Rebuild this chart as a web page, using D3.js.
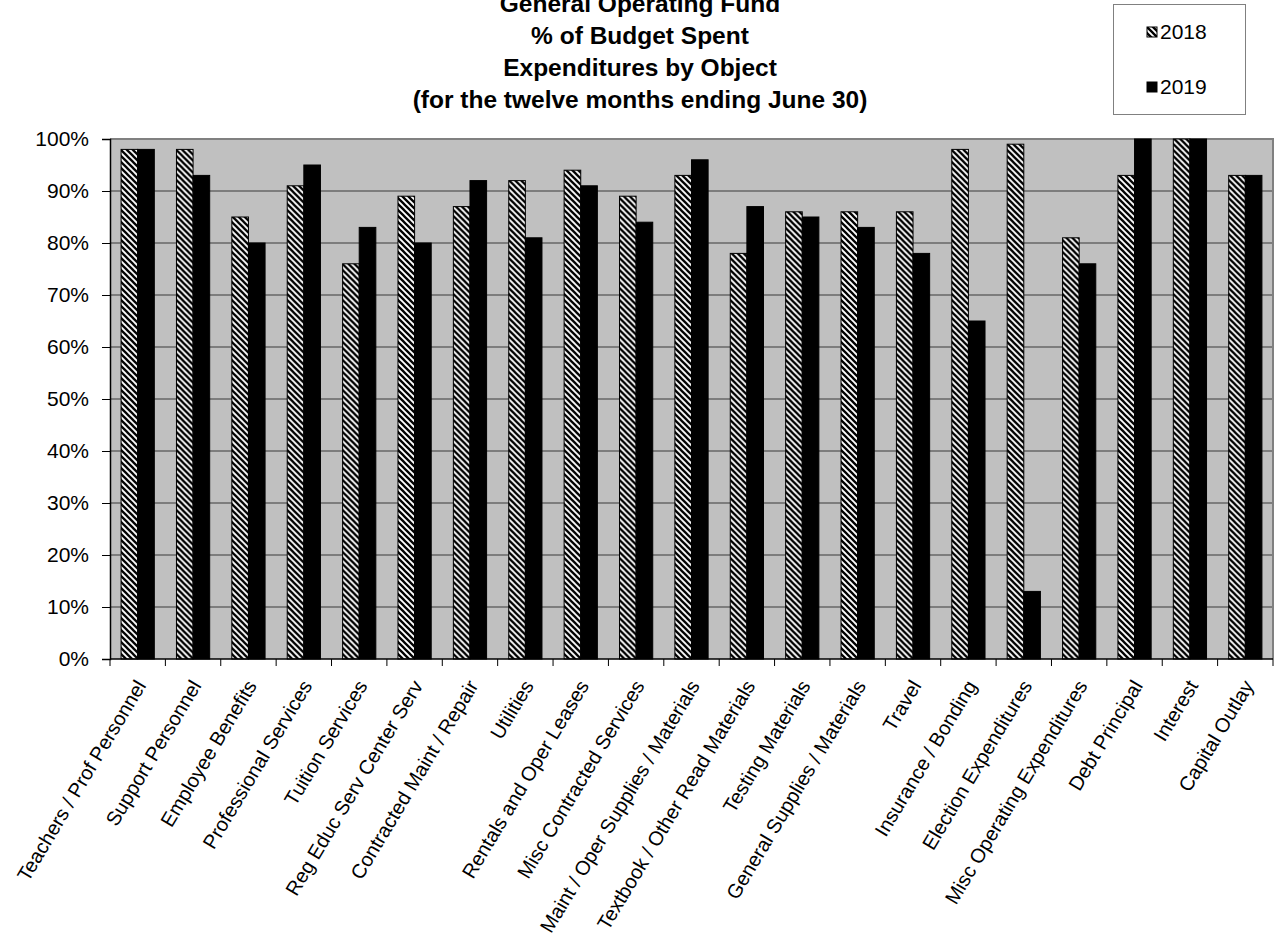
<!DOCTYPE html>
<html>
<head>
<meta charset="utf-8">
<script src="https://cdn.jsdelivr.net/npm/d3@7"></script>
<style>
  html, body { margin: 0; padding: 0; background: #ffffff; }
  svg { display: block; font-family: Arial, "Liberation Sans", sans-serif; }
</style>
</head>
<body>
<svg id="chart" width="1276" height="940"></svg>
<script>
const categories = [
  "Teachers / Prof Personnel", "Support Personnel", "Employee Benefits",
  "Professional Services", "Tuition Services", "Reg Educ Serv Center Serv",
  "Contracted Maint / Repair", "Utilities", "Rentals and Oper Leases",
  "Misc Contracted Services", "Maint / Oper Supplies / Materials",
  "Textbook / Other Read Materials", "Testing Materials",
  "General Supplies / Materials", "Travel", "Insurance / Bonding",
  "Election Expenditures", "Misc Operating Expenditures", "Debt Principal",
  "Interest", "Capital Outlay"
];
const seriesNames = ["2018", "2019"];
const values2018 = [98, 98, 85, 91, 76, 89, 87, 92, 94, 89, 93, 78, 86, 86, 86, 98, 99, 81, 93, 100, 93];
const values2019 = [98, 93, 80, 95, 83, 80, 92, 81, 91, 84, 96, 87, 85, 83, 78, 65, 13, 76, 100, 100, 93];
const yTicks = [0, 10, 20, 30, 40, 50, 60, 70, 80, 90, 100];
const titleLines = [
  "General Operating Fund",
  "% of Budget Spent",
  "Expenditures by Object",
  "(for the twelve months ending June 30)"
];

const svg = d3.select("#chart");
const plot = { left: 110, right: 1273, top: 139, bottom: 659 };

// hatch pattern
const defs = svg.append("defs");
const pat = defs.append("pattern")
  .attr("id", "hatch")
  .attr("patternUnits", "userSpaceOnUse")
  .attr("width", 6).attr("height", 6);
pat.append("rect").attr("width", 6).attr("height", 6).attr("fill", "#ffffff");
pat.append("path")
  .attr("d", "M-3,3 L3,9 M0,0 L6,6 M3,-3 L9,3")
  .attr("stroke", "#000").attr("stroke-width", 2.3);

const x0 = d3.scaleBand().domain(categories)
  .range([plot.left, plot.right]).paddingInner(0.4).paddingOuter(0.2);
const x1 = d3.scaleBand().domain(seriesNames).range([0, x0.bandwidth()]);
const y = d3.scaleLinear().domain([0, 100]).range([plot.bottom, plot.top]);

// plot background
svg.append("rect")
  .attr("x", plot.left).attr("y", plot.top)
  .attr("width", plot.right - plot.left).attr("height", plot.bottom - plot.top)
  .attr("fill", "#c0c0c0");

// gridlines
svg.append("g").selectAll("line").data(yTicks.filter(d => d > 0 && d < 100)).join("line")
  .attr("x1", plot.left).attr("x2", plot.right)
  .attr("y1", d => y(d)).attr("y2", d => y(d))
  .attr("stroke", "#3a3a3a").attr("stroke-width", 1);

// border top/right
svg.append("path")
  .attr("d", `M${plot.left},${plot.top} H${plot.right} V${plot.bottom}`)
  .attr("fill", "none").attr("stroke", "#808080").attr("stroke-width", 2);

// bars
const data = categories.map((c, i) => ({ c, vals: [
  { s: "2018", v: values2018[i] }, { s: "2019", v: values2019[i] }
]}));
const groups = svg.append("g").selectAll("g").data(data).join("g")
  .attr("transform", d => `translate(${x0(d.c)},0)`);
groups.selectAll("rect").data(d => d.vals).join("rect")
  .attr("x", d => x1(d.s))
  .attr("y", d => y(d.v))
  .attr("width", x1.bandwidth())
  .attr("height", d => y(0) - y(d.v))
  .attr("fill", d => d.s === "2018" ? "url(#hatch)" : "#000")
  .attr("stroke", "#000").attr("stroke-width", 1);

// y axis
const yAxis = d3.axisLeft(y).tickValues(yTicks).tickFormat(d => d + "%").tickSize(8).tickPadding(13);
const gy = svg.append("g").attr("transform", `translate(${plot.left},0)`).call(yAxis);
gy.select(".domain").attr("stroke", "#000").attr("stroke-width", 1.5);
gy.selectAll(".tick line").attr("stroke", "#000");
gy.selectAll(".tick text").attr("font-size", 21).attr("fill", "#000")
  .attr("font-family", "Arial, 'Liberation Sans', sans-serif");

// x axis line + ticks at band boundaries
const half = (x0.step() - x0.bandwidth()) / 2;
const bounds = categories.map(c => x0(c) - half).concat([plot.right]);
svg.append("line").attr("x1", plot.left).attr("x2", plot.right)
  .attr("y1", plot.bottom).attr("y2", plot.bottom)
  .attr("stroke", "#000").attr("stroke-width", 1.5);
svg.append("g").selectAll("line").data(bounds).join("line")
  .attr("x1", d => d).attr("x2", d => d)
  .attr("y1", plot.bottom).attr("y2", plot.bottom + 7)
  .attr("stroke", "#000");

// x labels
svg.append("g").selectAll("text").data(categories).join("text")
  .attr("transform", c => `translate(${x0(c) + x0.bandwidth() / 2 + 3},${682}) rotate(-59)`)
  .attr("text-anchor", "end")
  .attr("dy", "0.35em")
  .attr("font-size", 20)
  .attr("fill", "#000")
  .text(c => c);

// title
svg.append("g").selectAll("text").data(titleLines).join("text")
  .attr("x", 640).attr("y", (d, i) => 12 + i * 32)
  .attr("text-anchor", "middle")
  .attr("font-size", 24.5).attr("font-weight", "bold").attr("fill", "#000")
  .text(d => d);

// legend
const lg = svg.append("g");
lg.append("rect").attr("x", 1113.5).attr("y", 4.5).attr("width", 132).attr("height", 110)
  .attr("fill", "#fff").attr("stroke", "#808080").attr("stroke-width", 1);
const items = lg.selectAll("g").data(seriesNames).join("g")
  .attr("transform", (d, i) => `translate(1147,${27 + i * 55})`);
items.append("rect").attr("width", 10).attr("height", 10)
  .attr("fill", d => d === "2018" ? "url(#hatch)" : "#000")
  .attr("stroke", "#000").attr("stroke-width", 1);
items.append("text").attr("x", 13).attr("y", 12)
  .attr("font-size", 21).attr("fill", "#000").text(d => d);
</script>
</body>
</html>
